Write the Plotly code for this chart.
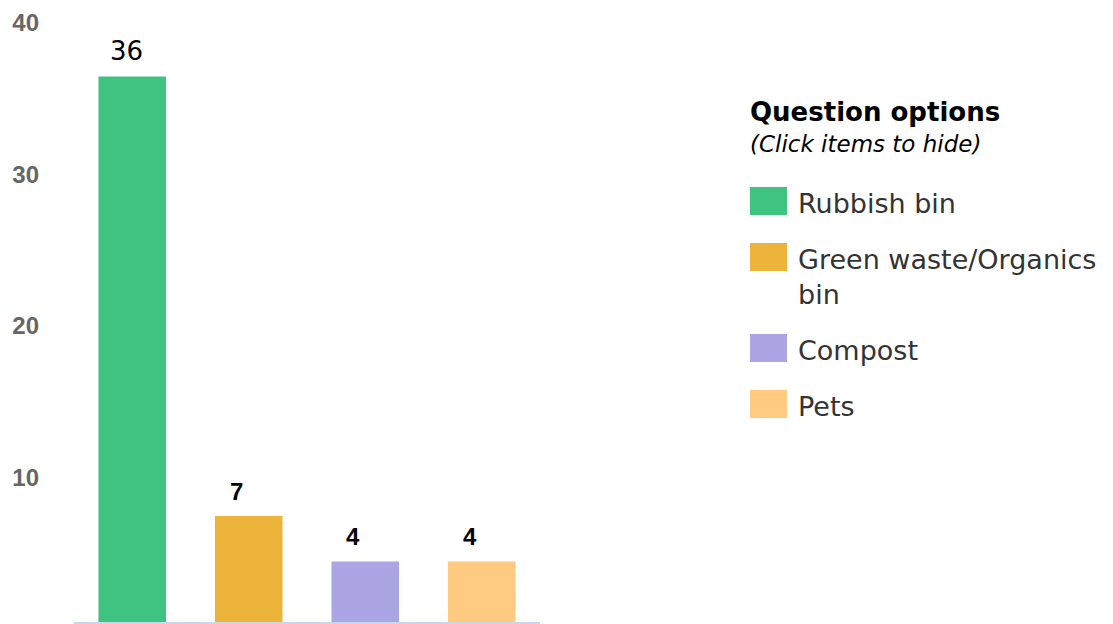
import plotly.graph_objects as go

categories = ["Rubbish bin", "Green waste/Organics bin", "Compost", "Pets"]
legend_labels = ["Rubbish bin", "Green waste/Organics<br>bin", "Compost", "Pets"]
values = [36, 7, 4, 4]
colors = ["#3FC380", "#EDB43C", "#ACA5E4", "#FECB81"]
y_ticks = [10, 20, 30, 40]
legend_title = "Question options"
legend_subtitle = "(Click items to hide)"

W, H = 1113, 624
L, R, T, B = 74, 573, 16, 2
PW, PH = W - L - R, H - T - B


def px(x):
    return (x - L) / PW


def py(y):
    return (H - B - y) / PH


fig = go.Figure()
fig.add_trace(go.Bar(
    x=categories, y=values, marker=dict(color=colors, line=dict(width=0)),
    showlegend=False, hoverinfo="x+y",
))

annotations = []
for i, (c, v) in enumerate(zip(categories, values)):
    if i == 0:
        f = dict(family="DejaVu Sans", size=26, color="#000000")
        txt = str(v)
        xs = -24
    else:
        f = dict(family="Liberation Sans", size=24, color="#000000")
        txt = f"<b>{v}</b>"
        xs = -21
    annotations.append(dict(
        x=c, y=v, xref="x", yref="y", text=txt,
        showarrow=False, xanchor="left", yanchor="bottom", xshift=xs, yshift=9,
        font=f,
    ))

# Legend (custom)
annotations.append(dict(x=px(748), y=py(112), xref="paper", yref="paper",
                        text=f"<b>{legend_title}</b>", showarrow=False,
                        xanchor="left", yanchor="middle",
                        font=dict(family="DejaVu Sans", size=26, color="#000000")))
annotations.append(dict(x=px(748), y=py(144), xref="paper", yref="paper",
                        text=f"<i>{legend_subtitle}</i>", showarrow=False,
                        xanchor="left", yanchor="middle",
                        font=dict(family="DejaVu Sans", size=23, color="#000000")))

item_centers = [201, 257, 348, 404]
shapes = []
for lab, col, cy in zip(legend_labels, colors, item_centers):
    shapes.append(dict(type="rect", xref="paper", yref="paper",
                       x0=px(750), x1=px(787), y0=py(cy - 14), y1=py(cy + 14),
                       fillcolor=col, line=dict(width=0)))
    annotations.append(dict(x=px(796), y=py(cy - 15), xref="paper", yref="paper",
                            text=lab, showarrow=False, xanchor="left", yanchor="top",
                            align="left",
                            font=dict(family="DejaVu Sans", size=27, color="#333333")))

fig.update_layout(
    width=W, height=H,
    margin=dict(l=L, r=R, t=T, b=B, pad=0),
    paper_bgcolor="white", plot_bgcolor="white",
    bargap=0.42,
    annotations=annotations, shapes=shapes,
    showlegend=False,
)
fig.update_xaxes(showline=True, linecolor="#CCD6EB", linewidth=2,
                 showticklabels=False, ticks="", showgrid=False, zeroline=False)
fig.update_yaxes(range=[0, 40], tickvals=y_ticks, showgrid=False, zeroline=False,
                 showline=False, ticks="", ticklabelstandoff=34, ticklabelshift=7,
                 tickfont=dict(family="Liberation Sans", size=24, color="#666666", weight="bold"))

fig.write_html("out.html", config={"displayModeBar": False},
               post_script="document.body.style.margin='0px';document.body.style.overflow='hidden';")
